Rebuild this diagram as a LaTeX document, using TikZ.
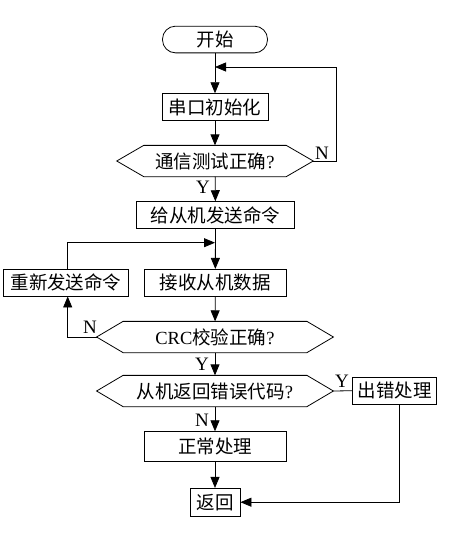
\documentclass[tikz,border=0pt]{standalone}
\usepackage{fontspec}
\setmainfont{Liberation Serif}
\newfontfamily\cjk{Noto Sans CJK SC}
\usetikzlibrary{arrows.meta}
\newcommand{\qmark}{{\rmfamily ?}}
\begin{document}
\begin{tikzpicture}[x=1pt,y=-1pt,line width=0.8pt,
  txt/.style={inner sep=0pt,font=\cjk\fontsize{18.5pt}{21pt}\selectfont},
  box/.style={txt,draw,minimum height=26.7pt},
  term/.style={box,rounded corners=13pt},
  hexn/.style={txt,minimum height=30.5pt},
  lab/.style={inner sep=0pt,font=\fontsize{19pt}{21pt}\selectfont},
  arr/.style={-{Triangle[length=11pt,width=9pt]}}]
\useasboundingbox (0,0) rectangle (468,539);
% nodes
\node[term,minimum width=105pt] (start) at (215,39.5) {开始};
\node[box,minimum width=106pt] (init) at (215,107) {串口初始化};
\node[hexn,minimum width=141.7pt] (h1) at (215,161) {通信测试正确\qmark};
\node[box,minimum width=157.6pt] (send) at (215.5,215) {给从机发送命令};
\node[box,minimum width=125pt] (resend) at (66,282.7) {重新发送命令};
\node[box,minimum width=142.7pt] (recv) at (215.3,282.7) {接收从机数据};
\node[hexn,minimum width=183pt] (h2) at (215,337) {{\rmfamily CRC}校验正确\qmark};
\node[hexn,minimum width=183pt] (h3) at (215,391) {从机返回错误代码\qmark};
\node[box,minimum width=84pt] (err) at (394.7,390.7) {出错处理};
\node[box,minimum width=142pt,minimum height=30pt] (normal) at (215,446.7) {正常处理};
\node[box,minimum width=50pt,minimum height=27.7pt] (ret) at (215,502.2) {返回};
% hexagon outlines
\coordinate (h1l) at ([xshift=-27pt]h1.west);
\coordinate (h1r) at ([xshift=27pt]h1.east);
\coordinate (h2l) at ([xshift=-26.5pt]h2.west);
\coordinate (h2r) at ([xshift=26.5pt]h2.east);
\coordinate (h3l) at ([xshift=-26.5pt]h3.west);
\coordinate (h3r) at ([xshift=26.5pt]h3.east);
\draw (h1.north west) -- (h1.north east) -- (h1r) -- (h1.south east) -- (h1.south west) -- (h1l) -- cycle;
\draw (h2.north west) -- (h2.north east) -- (h2r) -- (h2.south east) -- (h2.south west) -- (h2l) -- cycle;
\draw (h3.north west) -- (h3.north east) -- (h3r) -- (h3.south east) -- (h3.south west) -- (h3l) -- cycle;
% junctions
\coordinate (j1) at (215,67);
\coordinate (c1) at (336,67);
\coordinate (j2) at (215,242.7);
% connectors
\draw[arr] (start) -- (init);
\draw[arr] (h1r) -- (h1r -| c1) -- (c1) -- (j1);
\draw[arr] (init) -- (h1);
\draw[arr] (h1) -- (send);
\draw[arr] (send) -- (recv);
\draw[arr] ([xshift=1.7pt]resend.north) |- (j2);
\draw[arr] (recv) -- (h2);
\draw[arr] (h2l) -| ([xshift=1.7pt]resend.south);
\draw[arr] (h2) -- (h3);
\draw (h3r) -- (err.west);
\draw[arr] (h3) -- (normal);
\draw[arr] (normal) -- (ret);
\draw[arr] ([xshift=4.6pt]err.south) |- (ret.east);
% labels
\node[lab] (n1) at (322,153) {N};
\node[lab] (y1) at (203,187) {Y};
\node[lab] (n2) at (90,327) {N};
\node[lab] (y2) at (202,364) {Y};
\node[lab] (y3) at (342,381) {Y};
\node[lab] (n3) at (202,420) {N};
\end{tikzpicture}
\end{document}
